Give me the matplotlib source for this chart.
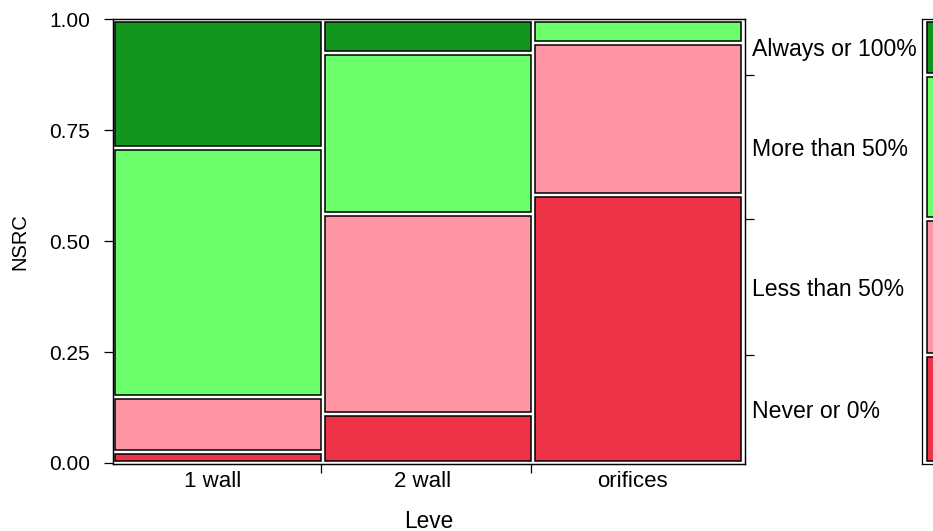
import numpy as np
import matplotlib.pyplot as plt
from matplotlib.patches import Rectangle

plt.rcParams['font.family'] = ['Liberation Sans', 'DejaVu Sans']

groups = ['1 wall', '2 wall', 'orifices']
levels = ['Never or 0%', 'Less than 50%', 'More than 50%', 'Always or 100%']
colors = ['#EE3248', '#FF96A5', '#6CFF6C', '#13961E']

# share of each NSRC answer inside each group (bottom to top)
never = [0.016, 0.106, 0.612]
less50 = [0.121, 0.458, 0.343]
more50 = [0.573, 0.368, 0.045]
always = [0.290, 0.068, 0.0]

props = np.array([never, less50, more50, always]).T  # groups x levels
marginal = props.mean(axis=0)  # groups have the same size


def stack(p, lo=0.004, hi=0.994, gap=0.009):
    # stacked (y, h) for each level, with a small gap between cells
    n = int((p > 0).sum())
    avail = hi - lo - gap * (n - 1)
    y = lo
    out = []
    for v in p:
        if v <= 0:
            out.append(None)
            continue
        h = v * avail
        out.append((y, h))
        y += h + gap
    return out


fig = plt.figure(figsize=(9.33, 5.31), dpi=100)
ax = fig.add_axes([113 / 933, 67 / 531, 632 / 933, 445 / 531])
ylim = (-0.0023, 1.0007)

gx = 0.006
w = (1 - 2 * gx) / len(groups)
for i, p in enumerate(props):
    x0 = i * (w + gx)
    for j, cell in enumerate(stack(p)):
        if cell is None:
            continue
        ax.add_patch(Rectangle((x0, cell[0]), w, cell[1], facecolor=colors[j],
                               edgecolor='black', linewidth=1.1))

ax.set_xlim(-0.0032, 1.0069)
ax.set_ylim(*ylim)
ax.set_yticks([0, 0.25, 0.5, 0.75, 1.0])
ax.set_yticklabels(['0.00', '0.25', '0.50', '0.75', '1.00'])
ax.tick_params(axis='y', length=6.5, width=0.9, pad=10, labelsize=15)

bounds = [i * (w + gx) + w for i in range(len(groups) - 1)]
centers = [i * (w + gx) + w / 2 - 0.008 for i in range(len(groups))]
ax.set_xticks(bounds)
ax.set_xticklabels([])
ax.set_xticks(centers, minor=True)
ax.set_xticklabels(groups, minor=True)
ax.tick_params(axis='x', which='major', length=6.5, width=0.9)
ax.tick_params(axis='x', which='minor', length=0, pad=5, labelsize=16)
for s in ax.spines.values():
    s.set_linewidth(0.9)

# right side labels from the overall distribution
msegs = stack(marginal)
gaps = [msegs[j][0] + msegs[j][1] + 0.0045 for j in range(len(levels) - 1)]
mids = [y + h / 2 for y, h in msegs]
tw = ax.twinx()
tw.set_ylim(*ylim)
tw.set_yticks(gaps)
tw.set_yticklabels([])
tw.set_yticks(mids, minor=True)
tw.set_yticklabels(levels, minor=True)
tw.tick_params(axis='y', which='major', length=6.5, width=0.9)
tw.tick_params(axis='y', which='minor', length=0, pad=4.8, labelsize=16.6)
for s in tw.spines.values():
    s.set_linewidth(0.9)

# overall strip, mostly outside the picture
sx = fig.add_axes([921.7 / 933, 67 / 531, 0.12, 445 / 531])
sx.set_xlim(0, 1)
sx.set_ylim(*ylim)
for j, (y, h) in enumerate(msegs):
    sx.add_patch(Rectangle((0.05, y), 0.9, h, facecolor=colors[j],
                           edgecolor='black', linewidth=1.1))
sx.set_xticks([])
sx.set_yticks([])
for s in sx.spines.values():
    s.set_linewidth(0.9)

fig.text(429 / 933, 3.3 / 531, 'Leve', ha='center', va='baseline', fontsize=16.3)
fig.text(20.3 / 933, 1 - 241.5 / 531, 'NSRC', rotation=90, ha='center',
         va='center', fontsize=14.5)

fig.savefig('out.png', dpi=100)
